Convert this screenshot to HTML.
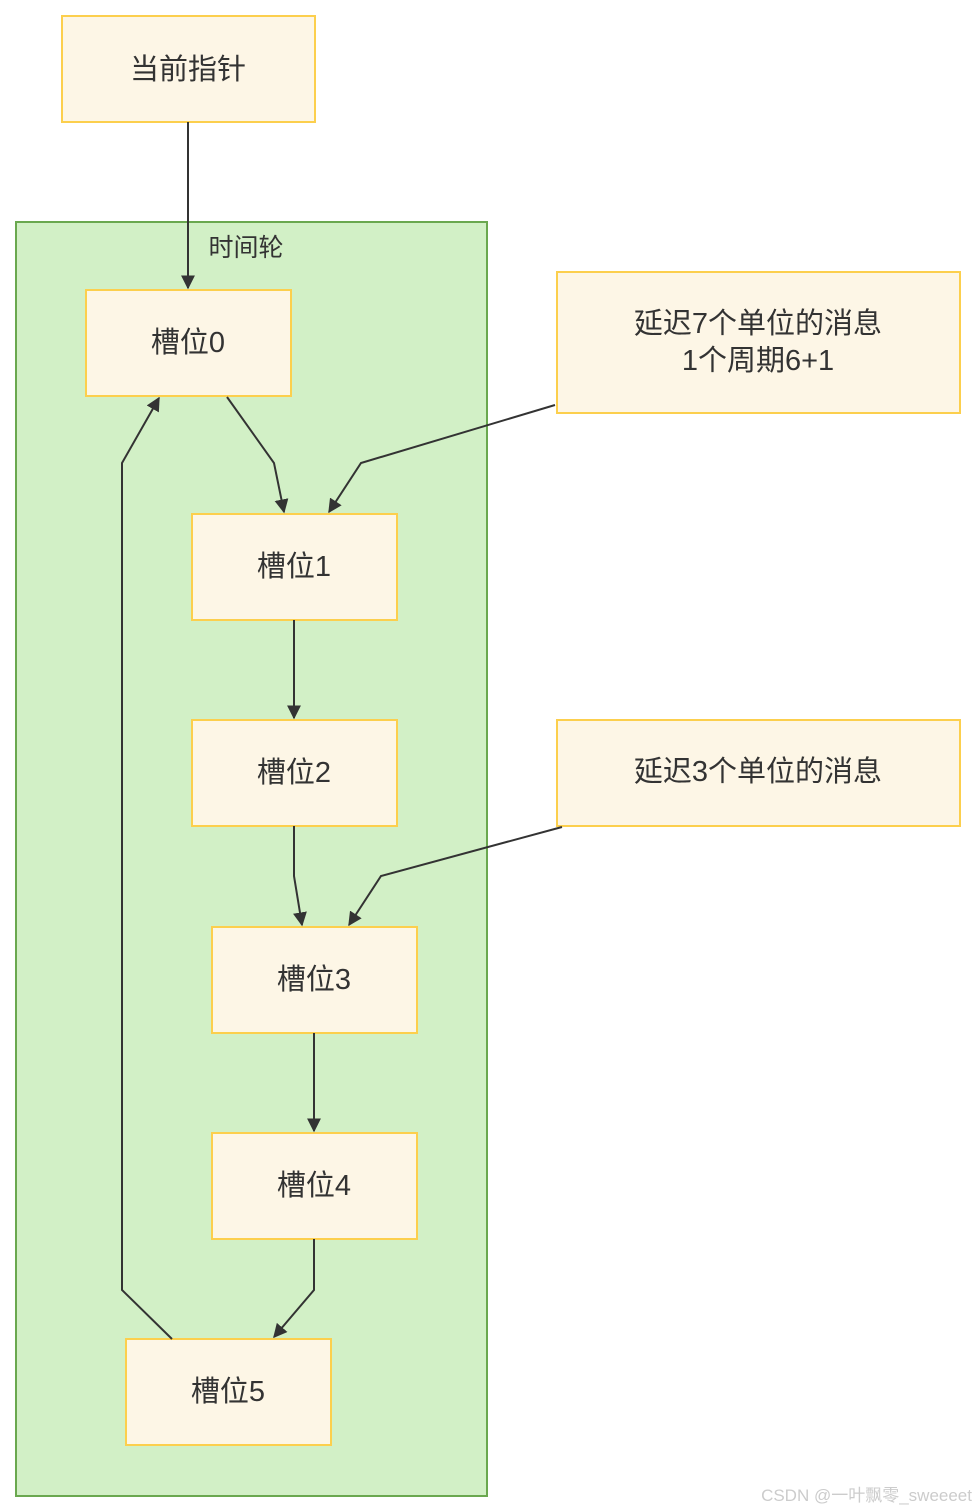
<!DOCTYPE html>
<html><head><meta charset="utf-8"><style>
html,body{margin:0;padding:0;background:#fff;width:976px;height:1512px;overflow:hidden}
svg text{font-family:"Liberation Sans","Noto Sans CJK SC",sans-serif;fill:#333}
</style></head><body>
<svg width="976" height="1512" viewBox="0 0 976 1512" xmlns="http://www.w3.org/2000/svg">
<defs><marker id="a" viewBox="0 0 10 10" refX="9" refY="5" markerWidth="7" markerHeight="7" orient="auto"><path d="M0,0L10,5L0,10z" fill="#333"/></marker></defs>
<rect x="16" y="222" width="471" height="1274" fill="#d2f0c6" stroke="#6aa84f" stroke-width="2"/>
<text x="246" y="256" font-size="25" text-anchor="middle">时间轮</text>
<g fill="#fdf6e6" stroke="#fccf4d" stroke-width="2">
<rect x="62" y="16" width="253" height="106"/>
<rect x="86" y="290" width="205" height="106"/>
<rect x="192" y="514" width="205" height="106"/>
<rect x="192" y="720" width="205" height="106"/>
<rect x="212" y="927" width="205" height="106"/>
<rect x="212" y="1133" width="205" height="106"/>
<rect x="126" y="1339" width="205" height="106"/>
<rect x="557" y="272" width="403" height="141"/>
<rect x="557" y="720" width="403" height="106"/>
</g>
<g fill="none" stroke="#333" stroke-width="2" marker-end="url(#a)">
<path d="M188,122V288"/>
<path d="M227,397L274,463L284,512"/>
<path d="M555,405L361,463L329,512"/>
<path d="M294,620V718"/>
<path d="M294,826V876L302,925"/>
<path d="M562,827L381,876L349,925"/>
<path d="M314,1033V1131"/>
<path d="M314,1239V1290L274,1337"/>
<path d="M172,1339L122,1290V463L159,398"/>
</g>
<g font-size="29" text-anchor="middle">
<text x="188" y="79">当前指针</text>
<text x="188" y="352">槽位0</text>
<text x="294" y="576">槽位1</text>
<text x="294" y="782">槽位2</text>
<text x="314" y="989">槽位3</text>
<text x="314" y="1195">槽位4</text>
<text x="228" y="1401">槽位5</text>
<text x="758" y="333">延迟7个单位的消息</text>
<text x="758" y="370">1个周期6+1</text>
<text x="758" y="781">延迟3个单位的消息</text>
</g>
<text x="972" y="1501" font-size="17" text-anchor="end" style="fill:#ccc">CSDN @一叶飘零_sweeeet</text>
</svg>
</body></html>
